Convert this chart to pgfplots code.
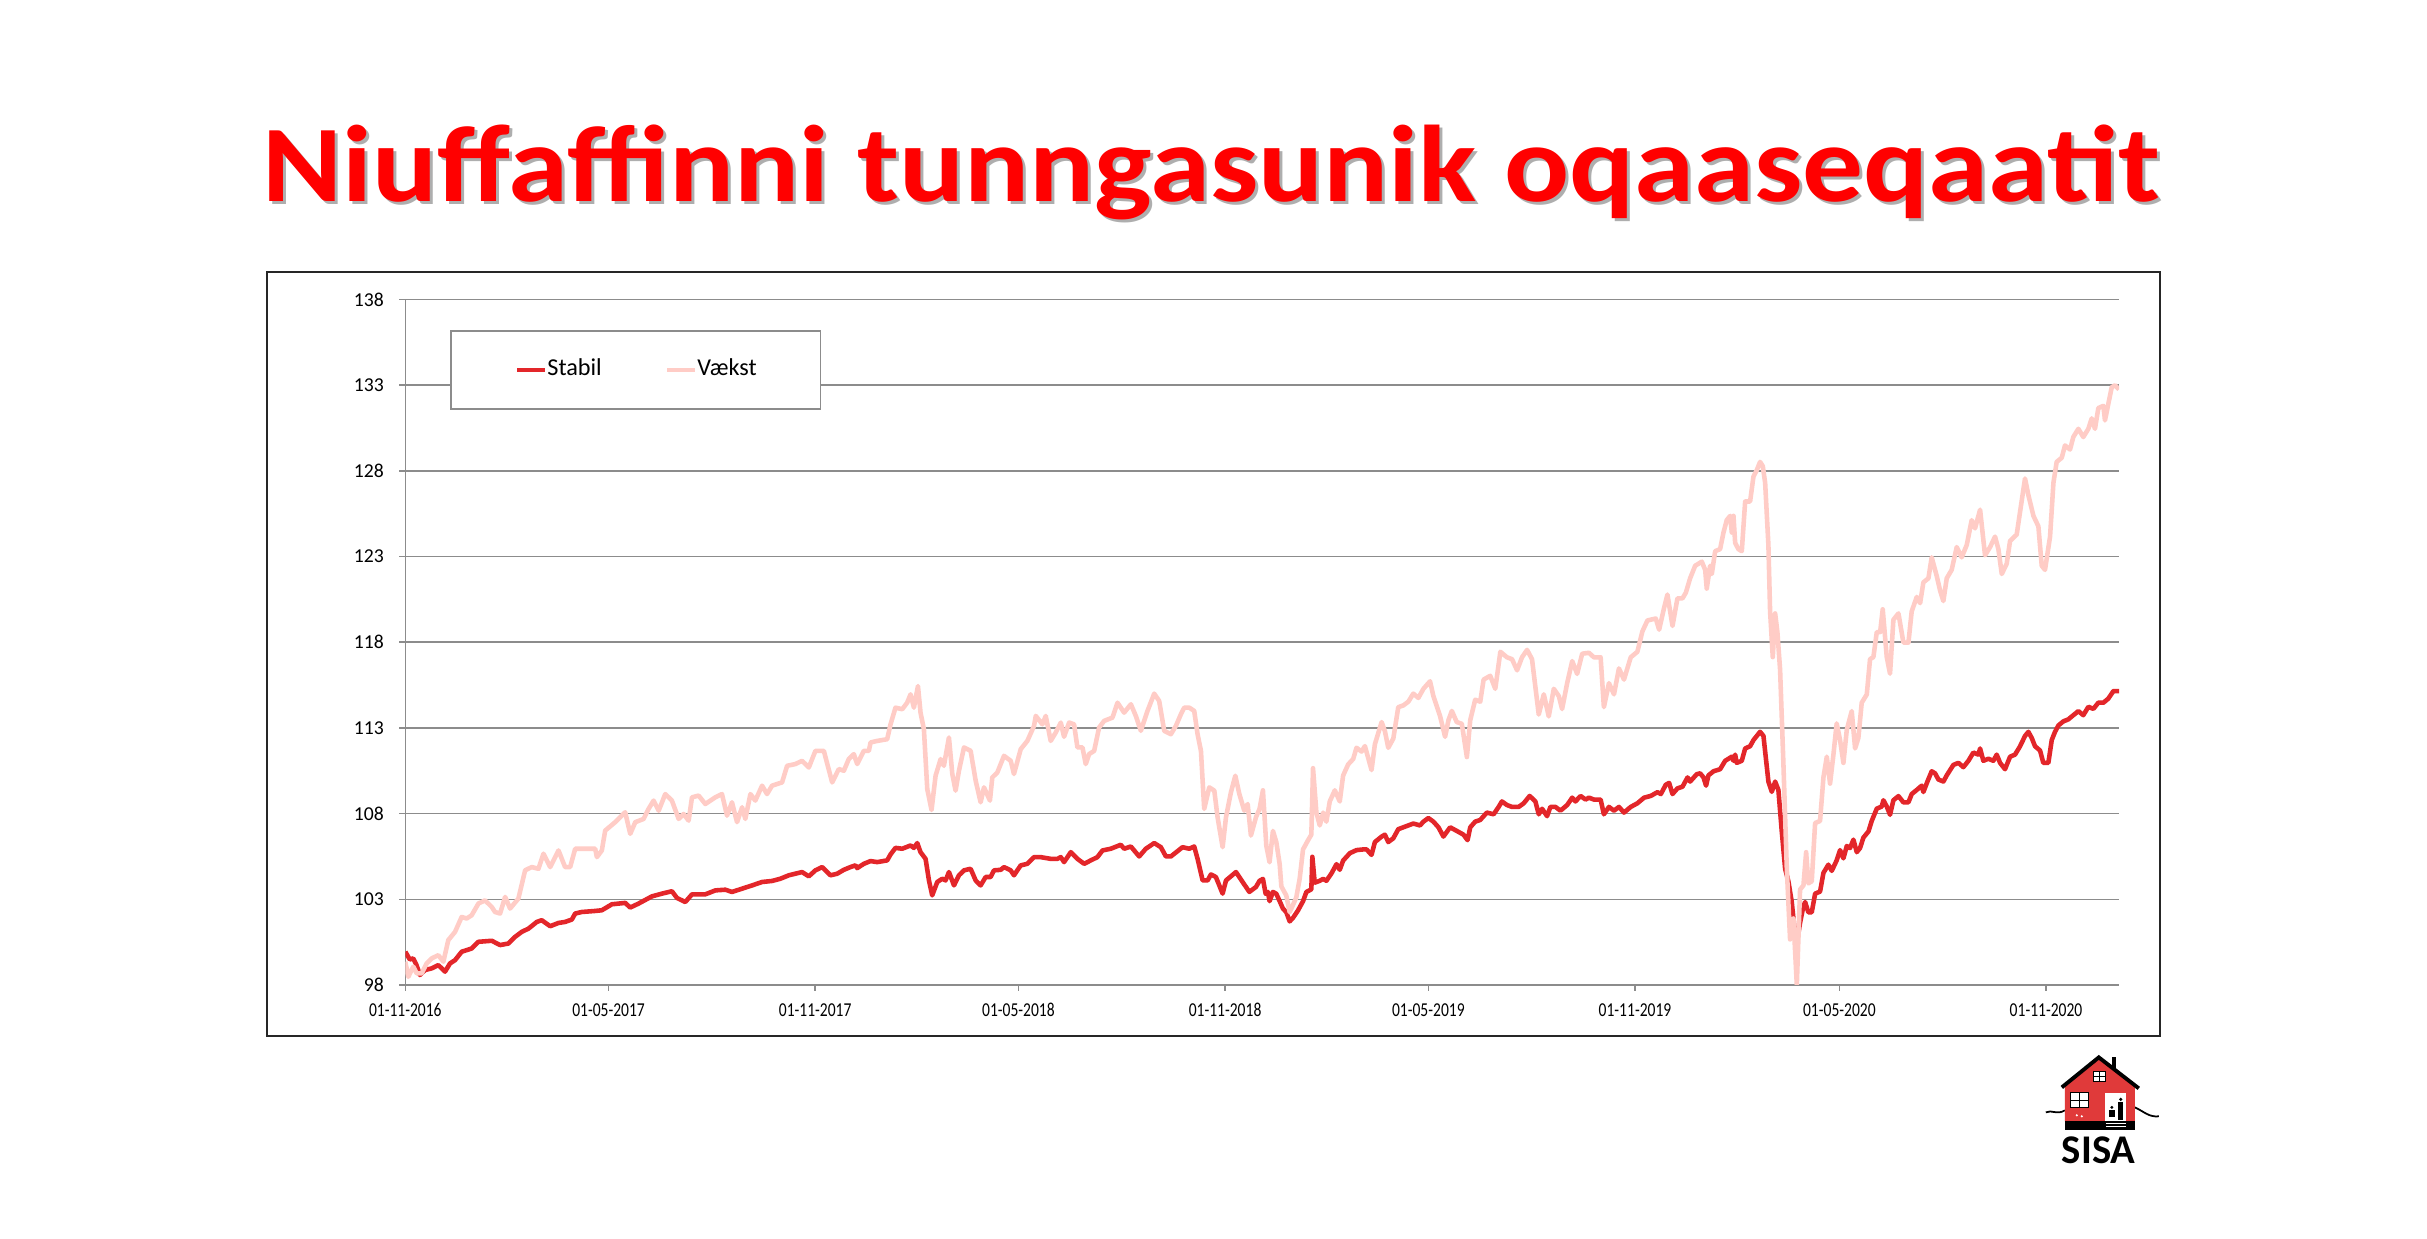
\documentclass[border=0pt]{standalone}
\usepackage{graphicx}
\usepackage{pgfplots}
\pgfplotsset{compat=1.18}
\usepackage{fontspec}
\setmainfont{Carlito}
\definecolor{stabil}{RGB}{227,38,42}
\definecolor{vaekst}{RGB}{255,204,198}
\definecolor{gridgray}{RGB}{140,140,140}
\definecolor{housered}{RGB}{224,58,58}
\newcommand{\xl}[1]{\scalebox{0.79}[1]{#1}}
\begin{document}
\begin{tikzpicture}
\useasboundingbox[fill=white] (0,0) rectangle (24.27,12.38);
% title with shadow
\node[anchor=base west, text=black!45, opacity=0.7, inner sep=0pt] at (2.65,10.33) {\resizebox{18.97cm}{\height}{\fontsize{31}{36}\selectfont\bfseries Niuffaffinni tunngasunik oqaaseqaatit}};
\node[anchor=base west, text=red, inner sep=0pt] at (2.62,10.36) {\resizebox{18.97cm}{\height}{\fontsize{31}{36}\selectfont\bfseries Niuffaffinni tunngasunik oqaaseqaatit}};
% chart frame
\draw[black!85, line width=0.6pt] (2.67,2.02) rectangle (21.60,9.66);
\begin{axis}[
  at={(4.053cm,2.53cm)}, anchor=south west,
  width=17.137cm, height=6.856cm, scale only axis,
  xmin=0, xmax=1526, ymin=98, ymax=138,
  ytick={98,103,...,138},
  xtick={0,181,365,546,730,911,1095,1277,1461},
  xticklabels={\xl{01-11-2016},\xl{01-05-2017},\xl{01-11-2017},\xl{01-05-2018},\xl{01-11-2018},\xl{01-05-2019},\xl{01-11-2019},\xl{01-05-2020},\xl{01-11-2020}},
  axis x line*=bottom, axis y line*=left,
  axis line style={-, draw=gridgray, line width=0.45pt},
  tick align=outside, major tick length=0.06cm,
  tick style={draw=gridgray, line width=0.45pt},
  ymajorgrids, major grid style={draw=gridgray, line width=0.45pt},
  /pgf/number format/assume math mode=true,
  tick label style={font=\fontsize{5.6}{6}\selectfont, text=black},
  yticklabel style={xshift=-0.03cm},
  legend columns=2,
  legend style={at={(rel axis cs:0.0261,0.9554)}, anchor=north west, draw=gridgray, line width=0.45pt, fill=white,
    font=\fontsize{6.9}{8}\selectfont, inner xsep=0.64cm, inner ysep=0.28cm,
    nodes={inner sep=0pt}, column sep=0pt,
    /tikz/every even column/.append style={column sep=0.63cm}},
  legend image code/.code={\draw[#1] (0cm,0cm) -- (0.28cm,0cm);},
]
\addplot[stabil, line width=1.3pt, line join=round] coordinates {
(0,99.94) (4,99.49) (7,99.55) (10,99.16) (13,98.58) (17.5,98.87) (23.5,98.97) (29.4,99.16) (35.4,98.78) (39.8,99.26) (44.3,99.45) (50.2,99.94) (59.1,100.13) (65.1,100.52) (77,100.58) (84.4,100.33) (91.8,100.42) (97.8,100.81) (103.7,101.10) (109.7,101.29) (117.1,101.68) (121.5,101.78) (129,101.43) (136.4,101.62) (142.3,101.68) (148.3,101.82) (151.3,102.17) (157.2,102.26) (169.1,102.32) (175,102.36) (184,102.71) (195.8,102.79) (200.3,102.52) (207.7,102.75) (219.6,103.17) (228.5,103.33) (237.4,103.47) (241.9,103.08) (249.3,102.84) (255.3,103.29) (267.2,103.29) (276.1,103.52) (285,103.56) (290.9,103.43) (299.9,103.62) (308.8,103.81) (317.7,104.01) (326.6,104.07) (334,104.20) (341.5,104.40) (353.3,104.59) (359.3,104.34) (365.2,104.69) (371.2,104.88)
(378.6,104.40) (384.5,104.49) (390.5,104.72) (396.4,104.88) (400.9,104.98) (402.4,104.82) (408.3,105.07) (414.3,105.23) (420.2,105.17) (429.1,105.27) (432.1,105.62) (436.5,106.00) (442.5,105.95) (449.9,106.14) (452.9,106.00) (455.9,106.28) (458.8,105.75) (463.3,105.36) (466.3,104.10) (469.2,103.23) (473.7,104.01) (478.2,104.20) (481.1,104.10) (484.1,104.59) (488.6,103.81) (493,104.40) (497.5,104.69) (503.4,104.78) (507.9,104.10) (512.3,103.81) (516.8,104.30) (521.2,104.30) (524.2,104.69) (530.2,104.72) (533.1,104.88) (539.1,104.69) (542,104.40) (548,104.98) (553.9,105.07) (559.9,105.46) (565.8,105.46) (574.7,105.36) (580.7,105.36) (583.7,105.46) (586.6,105.17) (592.6,105.75) (598.5,105.36) (604.5,105.07) (610.4,105.27) (616.3,105.46) (620.8,105.85) (628.2,105.95) (637.1,106.18) (640.1,105.95) (646.1,106.08) (653.5,105.50) (659.4,105.95) (666.9,106.28) (672.8,106.04) (677.3,105.50) (681.7,105.50) (687.7,105.81) (692.1,106.04) (698.1,105.95) (702.5,106.08) (705.5,105.36) (710,104.10) (714.4,104.10) (717.4,104.45) (721.8,104.30) (727.8,103.33) (730.8,104.10) (739.7,104.59) (745.6,104.01) (751.6,103.43) (757.5,103.72)
(760.7,104.08) (763.7,104.19) (766.1,103.32) (768.1,103.43) (769.6,102.89) (772.6,103.43) (775.6,103.32) (778.6,102.89) (781.5,102.46) (784.5,102.25) (787.5,101.71) (790.5,101.92) (794.9,102.35) (799.4,102.89) (802.4,103.43) (806.8,103.58) (807.7,105.48) (809.8,103.97) (814.3,104.08) (817.3,104.19) (820.2,104.08) (824.7,104.51) (829.2,105.05) (832.1,104.72) (835.1,105.26) (841.1,105.69) (847,105.87) (853,105.91) (856,105.91) (860.4,105.59) (863.4,106.34) (869.4,106.66) (872.3,106.77) (875.3,106.34) (879.8,106.56) (884.2,107.09) (888.7,107.20) (897.6,107.42) (903.6,107.31) (906.6,107.53) (911,107.74) (915.5,107.53) (920,107.20) (924.4,106.66) (930.4,107.20) (936.3,106.99) (942.3,106.77) (945.9,106.45) (948.3,107.20) (952.7,107.53) (957.2,107.63) (963.1,108.06) (969.1,107.96) (973.6,108.39) (976.5,108.71) (981,108.50) (985.5,108.39) (991.4,108.39) (995.9,108.60) (1001.2,109.03) (1006.3,108.71) (1009.3,107.96) (1012.3,108.28) (1016.7,107.85) (1019.7,108.39) (1024.2,108.39) (1028.6,108.17) (1034.6,108.50) (1039.1,108.93) (1042,108.71) (1046.5,109.03) (1051,108.82) (1054,108.93) (1058.4,108.82) (1064.4,108.82) (1067.3,107.96) (1071.8,108.39) (1076.3,108.17) (1080.7,108.39) (1085.2,108.06) (1091.2,108.39) (1097.1,108.60) (1103.1,108.93) (1109,109.03) (1115,109.25) (1118,109.14) (1122.4,109.68) (1125.4,109.79) (1128.4,109.14) (1132.8,109.47) (1137.3,109.57) (1141.8,110.11)
(1144.1,109.87) (1150,110.30) (1153,110.35) (1156,110.11) (1158.3,109.63) (1160.4,110.23) (1164.9,110.47) (1170.8,110.59) (1175.3,111.08) (1181.2,111.32) (1182.7,111.08) (1184.2,111.44) (1185.6,110.96) (1190.1,111.08) (1193.1,111.80) (1197.5,111.93) (1200.5,112.29) (1206.4,112.77) (1209.4,112.53) (1213.8,109.87) (1216.8,109.27) (1219.8,109.87) (1222.7,109.38) (1225.7,106.96) (1228.7,104.78) (1231.6,104.05) (1234.6,102.84) (1237.6,100.91) (1239.1,100.42) (1242,101.63) (1245,102.60) (1246.5,102.84) (1249.4,102.24) (1252.4,102.24) (1255.4,103.33) (1259.8,103.45) (1262.8,104.54) (1267.2,105.02) (1270.2,104.66) (1274.6,105.27) (1277.6,105.87) (1280.6,105.39) (1283.6,106.11) (1286.5,105.99) (1289.5,106.48) (1292.5,105.75) (1295.4,105.99) (1298.4,106.60) (1302.9,106.96) (1305.8,107.57) (1310.3,108.29) (1314.7,108.41) (1316.2,108.78) (1319.2,108.41) (1322.1,107.93) (1325.1,108.78) (1329.6,109.02) (1334,108.66) (1338.5,108.66) (1341.4,109.14) (1345.9,109.38) (1350.3,109.63) (1351.8,109.26) (1355.4,109.87) (1359.2,110.47) (1362.2,110.35) (1365.2,109.99) (1369.6,109.87) (1372.6,110.23) (1378.5,110.84) (1383,110.96) (1387.4,110.71) (1391.9,111.08) (1396.3,111.56) (1400.8,111.44) (1402.3,111.80) (1405.2,111.08) (1409.7,111.20) (1414.1,111.08) (1417.1,111.44) (1420.1,110.96) (1424.5,110.59) (1429,111.32) (1433.4,111.44) (1437.9,111.93) (1442.3,112.53) (1445.3,112.77) (1448.3,112.41) (1451.2,111.93) (1455.7,111.68) (1458.6,110.96) (1463.1,110.96) (1466.1,112.29) (1469,112.77) (1472,113.14) (1476.4,113.38) (1480.9,113.50) (1485.3,113.74) (1489.8,113.98) (1494.2,113.74) (1498.7,114.23) (1503.2,114.11) (1507.6,114.47) (1512.1,114.47) (1516.5,114.71) (1521,115.15) (1526,115.15)
};
\addlegendentry{Stabil}
\addplot[vaekst, line width=1.3pt, line join=round] coordinates {
(0,99.36) (2.7,98.48) (7.1,99.07) (10.1,98.68) (14.6,98.68) (19,99.26) (23.5,99.55) (29.4,99.74) (33.9,99.36) (38.3,100.62) (44.3,101.10) (50.2,101.97) (54.7,101.88) (59.1,102.07) (65.1,102.75) (71,102.94) (77,102.55) (79.9,102.26) (84.4,102.17) (88.9,103.14) (93.3,102.46) (100.7,103.04) (106.7,104.69) (112.6,104.88) (118.6,104.78) (123,105.66) (129,104.88) (136.4,105.85) (142.3,104.88) (146.8,104.88) (151.3,105.95) (157.2,105.95) (169.1,105.95) (170.6,105.46) (175,105.85) (178,107.01) (186.9,107.50) (195.8,108.08) (200.3,106.82) (204.8,107.50) (212.2,107.69) (216.6,108.27) (221.1,108.76) (225.6,108.17) (231.5,109.14) (237.4,108.76) (243.4,107.69) (247.8,107.98) (252.3,107.59) (255.3,108.95) (261.2,109.05) (267.2,108.56) (276.1,108.95) (282,109.14) (286.5,107.88) (290.9,108.66) (295.4,107.50) (299.9,108.37) (302.8,107.69) (307.3,109.14) (311.7,108.76) (317.7,109.63) (322.1,109.14) (326.6,109.63) (335.5,109.82) (340,110.79) (347.4,110.89) (353.3,111.08) (359.3,110.69) (365.2,111.66) (372.7,111.66) (380.1,109.82)
(386,110.60) (390.5,110.50) (394.9,111.18) (399.4,111.47) (402.4,110.89) (408.3,111.66) (412.8,111.66) (414.3,112.15) (420.2,112.24) (429.1,112.34) (432.1,113.21) (436.5,114.18) (442.5,114.09) (446.9,114.47) (449.9,114.96) (452.9,114.18) (456.5,115.44) (458.8,113.89) (461.8,112.92) (464.8,109.43) (468.6,108.21) (472.2,110.21) (476.7,111.18) (479.6,110.79) (484.1,112.44) (487.1,110.31) (490,109.34) (493,110.50) (497.5,111.86) (503.4,111.66) (507.9,109.92) (512.3,108.66) (515.3,109.53) (520.6,108.76) (522.7,110.11) (527.2,110.40) (533.1,111.37) (539.1,111.08) (542,110.31) (548,111.76) (553.9,112.24) (559.9,113.12) (561.4,113.70) (567.3,113.21) (570.3,113.70) (574.7,112.24) (579.2,112.73) (583.7,113.31) (586.6,112.48) (591.1,113.31) (595.5,113.21) (598.5,111.86) (603,111.86) (605.9,110.89) (608.9,111.47) (613.4,111.66) (617.8,113.02) (622.3,113.41) (629.7,113.60) (634.2,114.47) (640.1,113.89) (646.1,114.38) (650.5,113.70) (655,112.83) (660.9,113.99) (666.9,115.00) (671.3,114.57) (675.8,112.83) (681.7,112.63) (686.2,113.12) (690.6,113.79) (693.6,114.18) (698.1,114.18) (702.5,113.99) (705.5,112.63) (708.5,111.66) (711.4,108.27) (715.9,109.53) (720.4,109.34) (723.3,107.79) (727.8,106.04) (730.8,107.79) (735.2,109.24) (739.1,110.21) (742.7,109.14) (747.1,108.17) (750.1,108.56) (753,106.72) (757.5,107.79)
(760.7,108.28) (763.7,109.36) (766.7,106.13) (769.6,105.16) (772.6,106.99) (775.6,106.34) (778.6,105.05) (780.1,103.75) (784.5,103.22) (787.5,102.25) (790.5,102.68) (793.4,103.11) (796.4,104.19) (799.4,105.91) (803.9,106.45) (806.8,106.77) (808.3,110.65) (811.3,108.06) (814.3,107.31) (817.3,108.06) (820.2,107.53) (823.2,108.71) (827.7,109.36) (832.1,108.71) (835.1,110.22) (839.6,110.87) (844.1,111.19) (847,111.84) (851.5,111.62) (854.5,111.94) (860.4,110.54) (863.4,112.05) (869.4,113.34) (872.3,112.81) (875.3,111.84) (879.8,112.38) (884.2,114.21) (888.7,114.31) (893.2,114.53) (897.6,115.00) (902.1,114.75) (906.6,115.28) (912.5,115.72) (915.5,114.85) (921.5,113.67) (925.9,112.48) (928.9,113.45) (931.9,113.99) (936.3,113.34) (940.8,113.24) (945.3,111.30) (948.3,113.45) (952.7,114.64) (957.2,114.53) (960.2,115.82) (966.1,116.04) (970.6,115.28) (975.1,117.44) (981,117.12) (985.5,117.01) (990,116.36) (994.4,117.12) (998.9,117.55) (1003.3,117.01) (1006.3,115.39) (1009.3,113.78) (1013.8,114.96) (1018.2,113.67) (1022.7,115.28) (1027.2,114.85) (1030.1,114.10) (1034.6,115.61) (1039.1,116.90) (1043.5,116.15) (1048,117.33) (1054,117.38) (1058.4,117.12) (1064.4,117.12) (1067.3,114.21) (1071.8,115.61) (1076.3,114.96) (1080.7,116.47) (1085.2,115.82) (1091.2,117.12) (1097.1,117.44) (1101.6,118.63) (1106.1,119.27) (1113.5,119.38) (1116.5,118.73) (1121,120.03) (1123.9,120.78) (1128.4,118.95) (1132.8,120.56) (1137.3,120.56) (1140.3,120.89)
(1144.1,121.73) (1148.6,122.46) (1154.5,122.70) (1157.5,122.22) (1158.9,121.13) (1161.9,122.46) (1163.4,121.98) (1166.4,123.31) (1170.8,123.43) (1173.8,124.40) (1176.7,125.12) (1179.7,125.37) (1181.2,124.40) (1182.7,125.37) (1184.2,123.79) (1187.1,123.43) (1190.1,123.31) (1193.1,126.21) (1197.5,126.21) (1200.5,127.67) (1203.4,128.03) (1206.4,128.52) (1208.8,128.27) (1210.9,127.30) (1213.8,123.67) (1215.3,119.80) (1217.7,117.13) (1219.8,119.68) (1221.8,118.59) (1224.2,116.41) (1227.2,110.84) (1230.2,104.78) (1233.1,100.66) (1236.1,101.88) (1239.1,98.00) (1242,103.57) (1245,103.81) (1247.4,105.75) (1249.4,103.93) (1252.4,104.05) (1255.4,107.45) (1259.8,107.57) (1262.8,110.11) (1265.8,111.32) (1268.7,109.75) (1271.7,111.44) (1274.6,113.26) (1277.6,112.29) (1280.6,110.96) (1283.6,112.89) (1288,113.98) (1291,111.80) (1293.9,112.41) (1296.9,114.47) (1301.4,114.95) (1304.3,117.01) (1307.3,117.13) (1310.3,118.59) (1313.3,118.59) (1315.6,119.92) (1319.2,117.13) (1322.1,116.16) (1325.1,119.31) (1329.6,119.68) (1334,117.98) (1338.5,117.98) (1341.4,119.80) (1345.9,120.64) (1348.9,120.28) (1351.8,121.49) (1356.3,121.73) (1359.2,122.95) (1363.7,121.86) (1366.7,121.01) (1369.6,120.40) (1372.6,121.73) (1377,122.22) (1381.5,123.55) (1385.9,122.95) (1390.4,123.67) (1394.8,125.12) (1397.8,124.64) (1402.3,125.73) (1406.7,123.07) (1411.2,123.55) (1415.6,124.16) (1418.6,123.43) (1421.6,121.98) (1426,122.58) (1429,123.91) (1434.9,124.28) (1437.9,125.61) (1442.3,127.55) (1445.3,126.58) (1449.8,125.37) (1454.2,124.76) (1457.2,122.46) (1460.1,122.22) (1464.6,124.16) (1467.6,127.30) (1470.5,128.52) (1475,128.76) (1477.9,129.48) (1482.4,129.24) (1485.3,129.97) (1489.8,130.45) (1494.2,129.97) (1498.7,130.45) (1501.7,131.06) (1504.6,130.45) (1507.6,131.66) (1512.1,131.79) (1513.5,130.94) (1516.5,131.91) (1519.5,132.87) (1522.5,132.99) (1526,132.75)
};
\addlegendentry{Vækst}
\end{axis}
% SISA logo (pixel coordinates of the reference)
\begin{scope}[x=0.01cm, y=-0.01cm, shift={(0cm,12.38cm)}]
  \draw[black, line width=0.5pt] (2047,1113) .. controls (2053,1110) and (2058,1116) .. (2066,1111);
  \draw[black, line width=0.5pt] (2136,1108) .. controls (2145,1112) and (2150,1118) .. (2160,1117);
  \fill[housered] (2066,1086) -- (2100,1060) -- (2136,1086) -- (2136,1122) -- (2066,1122) -- cycle;
  \fill[black] (2113,1058) rectangle (2117,1070);
  \draw[black, line width=1.1pt, line join=miter] (2063,1088) -- (2100,1058) -- (2140,1089);
  \fill[black] (2066,1121.5) rectangle (2136,1130.5);
  \fill[white] (2095,1072) rectangle (2106.5,1082.5);
  \draw[black, line width=0.35pt] (2095,1072) rectangle (2106.5,1082.5) (2100.75,1072) -- (2100.75,1082.5) (2095,1077.25) -- (2106.5,1077.25);
  \fill[white] (2072,1093.5) rectangle (2090,1108.5);
  \draw[black, line width=0.35pt] (2072,1093.5) rectangle (2090,1108.5) (2081,1093.5) -- (2081,1108.5) (2072,1101) -- (2090,1101);
  \fill[white] (2106,1093.5) rectangle (2127.5,1121.5);
  \fill[black] (2122,1100) circle (1.8);
  \fill[black] (2119.5,1102.5) rectangle (2124.5,1121);
  \fill[black] (2113,1108) circle (1.6);
  \fill[black] (2110.5,1110.5) rectangle (2116,1118);
  \draw[white, line width=0.3pt] (2107,1124) -- (2127,1124) (2107,1127) -- (2127,1127);
  \fill[white] (2078,1116) circle (1.2) (2083,1117) circle (1.2);
  \node[anchor=center, inner sep=0pt, font=\fontsize{11.6}{12}\selectfont\bfseries] at (2100,1151) {SISA};
\end{scope}
\end{tikzpicture}
\end{document}
